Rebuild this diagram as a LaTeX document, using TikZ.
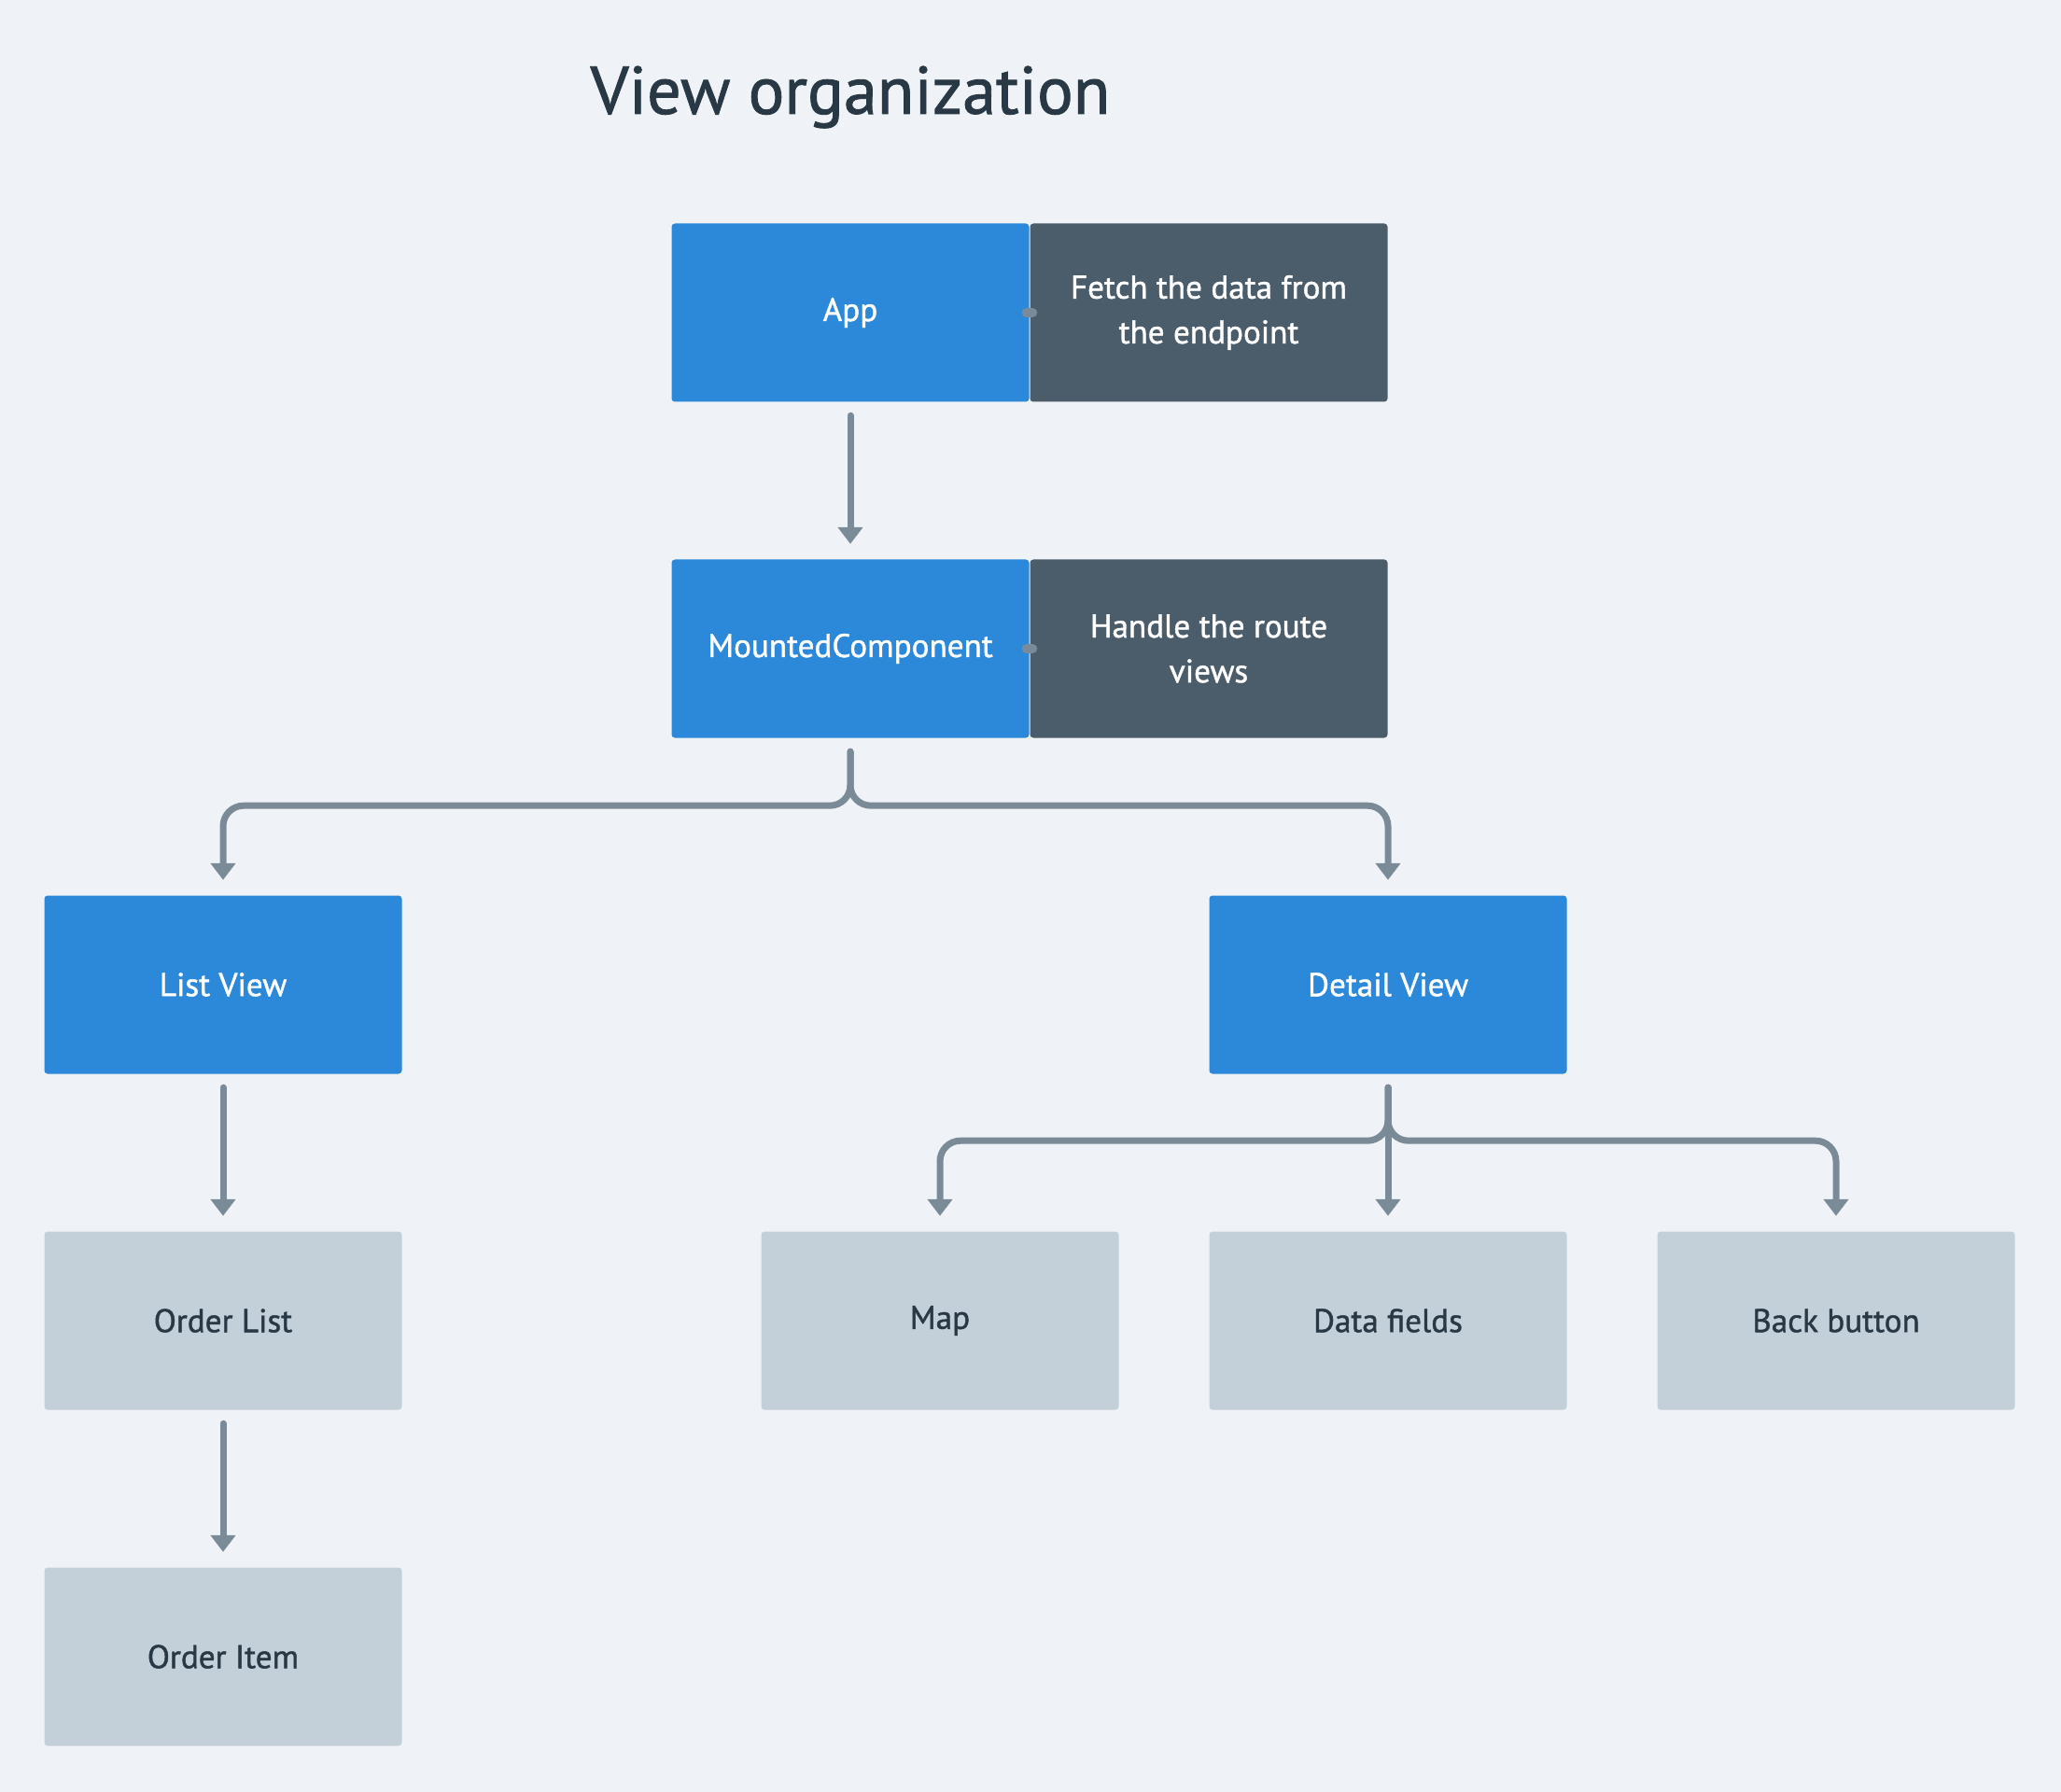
\documentclass[tikz,border=0pt]{standalone}
\usepackage{fontspec}
\setmainfont{PT Sans}
\newfontfamily\medfont{PT Sans}[FakeBold=1.2]
\usetikzlibrary{arrows.meta}
\definecolor{bgcol}{HTML}{EFF3F7}
\definecolor{bluebox}{HTML}{2C88D9}
\definecolor{darkbox}{HTML}{4B5C6B}
\definecolor{lightbox}{HTML}{C3CFD9}
\definecolor{linkcol}{HTML}{7B8A97}
\definecolor{inkcol}{HTML}{293845}

\begin{document}
\begin{tikzpicture}[
	box/.style={rectangle,rounded corners=1pt,minimum width=3.83cm,minimum height=1.91cm,inner sep=0pt,align=center,font=\medfont\fontsize{10}{13.7}\selectfont},
	comp/.style={box,fill=bluebox,text=white},
	note/.style={box,fill=darkbox,text=white},
	part/.style={box,fill=lightbox,text=inkcol},
	flow/.style={draw=linkcol,line width=0.07cm,line cap=round,rounded corners=0.22cm,-{Triangle[width=0.26cm,length=0.18cm]}},
	seam/.style={draw=linkcol,line width=0.1cm,line cap=round}
	]
		\useasboundingbox (0,0) rectangle (22.08,-19.20);
		\fill[bgcol] (0,0) rectangle (22.08,-19.20);
		\node[anchor=base,text=inkcol,font=\medfont\fontsize{20.6}{25}\selectfont] (title) at (9.11,-1.22) {View organization};
		\node[comp] (app) at (9.11,-3.35) {App};
		\node[note] (fetch) at (12.95,-3.35) {Fetch the data from\\the endpoint};
		\node[comp] (mounted) at (9.11,-6.95) {MountedComponent};
		\node[note] (routes) at (12.95,-6.95) {Handle the route\\views};
		\node[comp] (listview) at (2.39,-10.55) {List View};
		\node[comp] (detailview) at (14.87,-10.55) {Detail View};
		\node[part] (orderlist) at (2.39,-14.15) {Order List};
		\node[part] (map) at (10.07,-14.15) {Map};
		\node[part] (datafields) at (14.87,-14.15) {Data fields};
		\node[part] (backbutton) at (19.67,-14.15) {Back button};
		\node[part] (orderitem) at (2.39,-17.75) {Order Item};
		\draw[seam] ([xshift=-0.035cm]app.east) -- ([xshift=0.035cm]fetch.west);
		\draw[seam] ([xshift=-0.035cm]mounted.east) -- ([xshift=0.035cm]routes.west);
		\draw[flow] ([yshift=-0.14cm]app.south) -- ([yshift=0.16cm]mounted.north);
		\draw[flow] ([yshift=-0.14cm]mounted.south) -- ++(0,-0.58) -| ([yshift=0.16cm]listview.north);
		\draw[flow] ([yshift=-0.14cm]mounted.south) -- ++(0,-0.58) -| ([yshift=0.16cm]detailview.north);
		\draw[flow] ([yshift=-0.14cm]listview.south) -- ([yshift=0.16cm]orderlist.north);
		\draw[flow] ([yshift=-0.14cm]orderlist.south) -- ([yshift=0.16cm]orderitem.north);
		\draw[flow] ([yshift=-0.14cm]detailview.south) -- ++(0,-0.57) -| ([yshift=0.16cm]map.north);
		\draw[flow] ([yshift=-0.14cm]detailview.south) -- ([yshift=0.16cm]datafields.north);
		\draw[flow] ([yshift=-0.14cm]detailview.south) -- ++(0,-0.57) -| ([yshift=0.16cm]backbutton.north);
	\end{tikzpicture}
\end{document}
